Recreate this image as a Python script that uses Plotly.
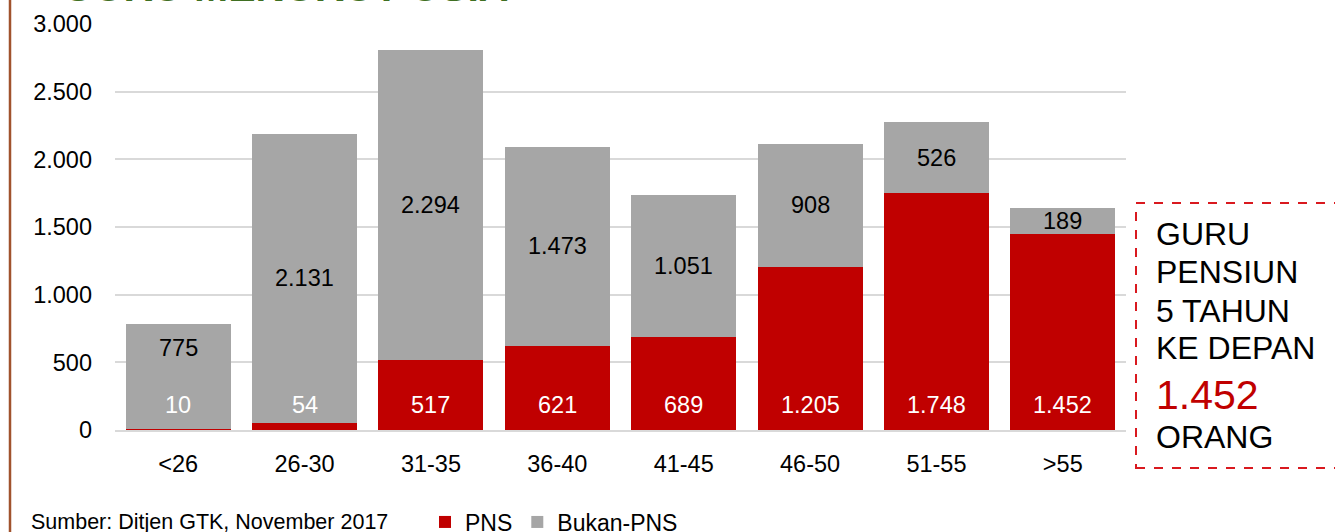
import plotly.graph_objects as go

categories = ["<26", "26-30", "31-35", "36-40", "41-45", "46-50", "51-55", ">55"]
pns = [10, 54, 517, 621, 689, 1205, 1748, 1452]
bukan_pns = [775, 2131, 2294, 1473, 1051, 908, 526, 189]
y_ticks = [0, 500, 1000, 1500, 2000, 2500, 3000]

RED = "#c00000"
GREY = "#a6a6a6"
FONT = "Liberation Sans, Arial, sans-serif"
FS = 23.5

W, H = 1335, 532
ML, MT = 115, 24
MB = H - 430
MR = W - 1126
PW = W - ML - MR
PH = H - MT - MB


def px_x(p):
    return (p - ML) / PW


def px_y(p):
    return (H - MB - p) / PH


def fmt(v):
    return f"{v:,}".replace(",", ".")


fig = go.Figure()
fig.add_trace(go.Bar(x=categories, y=pns, name="PNS", marker_color=RED,
                     marker_line_width=0))
fig.add_trace(go.Bar(x=categories, y=bukan_pns, name="Bukan-PNS", marker_color=GREY,
                     marker_line_width=0))

annotations = []
# PNS labels near bottom of bars
for c, v in zip(categories, pns):
    annotations.append(dict(x=c, y=0, xref="x", yref="y", text=fmt(v),
                            showarrow=False, yshift=25,
                            font=dict(color="white", size=FS, family=FONT)))
# Bukan-PNS labels centred in their segment
for i, (c, p, b) in enumerate(zip(categories, pns, bukan_pns)):
    ys = 28 if i == 0 else 0
    annotations.append(dict(x=c, y=p + b / 2, xref="x", yref="y", text=fmt(b),
                            showarrow=False, yshift=ys,
                            font=dict(color="black", size=FS, family=FONT)))

# Title (cut off at top)
annotations.append(dict(x=px_x(60), y=px_y(-13), xref="paper", yref="paper", xanchor="left",
                        yanchor="middle", text="<b>GURU MENURUT USIA</b>", showarrow=False,
                        font=dict(color="#3f6f22", size=41, family=FONT)))
# Source
annotations.append(dict(x=px_x(29), y=px_y(522), xref="paper", yref="paper", xanchor="left",
                        yanchor="middle", text="Sumber: Ditjen GTK, November 2017", showarrow=False,
                        font=dict(color="black", size=21.5, family=FONT)))
# Right box text
box_lines = [("GURU", 234, "black", 32), ("PENSIUN", 272, "black", 32), ("5 TAHUN", 311, "black", 32),
             ("KE DEPAN", 348, "black", 32), ("1.452", 395, RED, 41), ("ORANG", 437, "black", 32)]
for t, yy, col, sz in box_lines:
    annotations.append(dict(x=px_x(1154), y=px_y(yy), xref="paper", yref="paper", xanchor="left",
                            yanchor="middle", text=t, showarrow=False,
                            font=dict(color=col, size=sz, family=FONT)))

shapes = [
    dict(type="rect", xref="paper", yref="paper", x0=px_x(1136), x1=px_x(1350),
         y0=px_y(468), y1=px_y(203), line=dict(color="#d9191f", width=2, dash="dash")),
    dict(type="line", xref="paper", yref="paper", x0=px_x(10), x1=px_x(10),
         y0=px_y(545), y1=px_y(-10), line=dict(color="#a0522d", width=2.5)),
]

fig.update_layout(
    width=W, height=H,
    margin=dict(l=ML, r=MR, t=MT, b=MB, autoexpand=False),
    paper_bgcolor="white", plot_bgcolor="white",
    barmode="stack", bargap=0.17,
    separators=",.",
    font=dict(family=FONT, size=FS, color="black"),
    showlegend=True,
    legend=dict(orientation="h", x=px_x(425), y=px_y(522), xanchor="left", yanchor="middle",
                font=dict(size=23, family=FONT), itemwidth=30, tracegroupgap=0,
                bgcolor="rgba(0,0,0,0)", traceorder="normal"),
    annotations=annotations,
    shapes=shapes,
)
fig.update_xaxes(showgrid=False, showline=True, linecolor="#d9d9d9", linewidth=2,
                 ticks="", tickfont=dict(size=FS, color="black"), ticklabelstandoff=12)
fig.update_yaxes(range=[0, 3000], tickvals=y_ticks, tickformat=",d", showgrid=True,
                 gridcolor="#d9d9d9", gridwidth=2, zeroline=False, showline=False,
                 tickfont=dict(size=FS, color="black"), ticklabelstandoff=22)

fig.write_html("out.html", config={"displayModeBar": False},
               post_script="document.body.style.margin='0';document.body.style.overflow='hidden';")
